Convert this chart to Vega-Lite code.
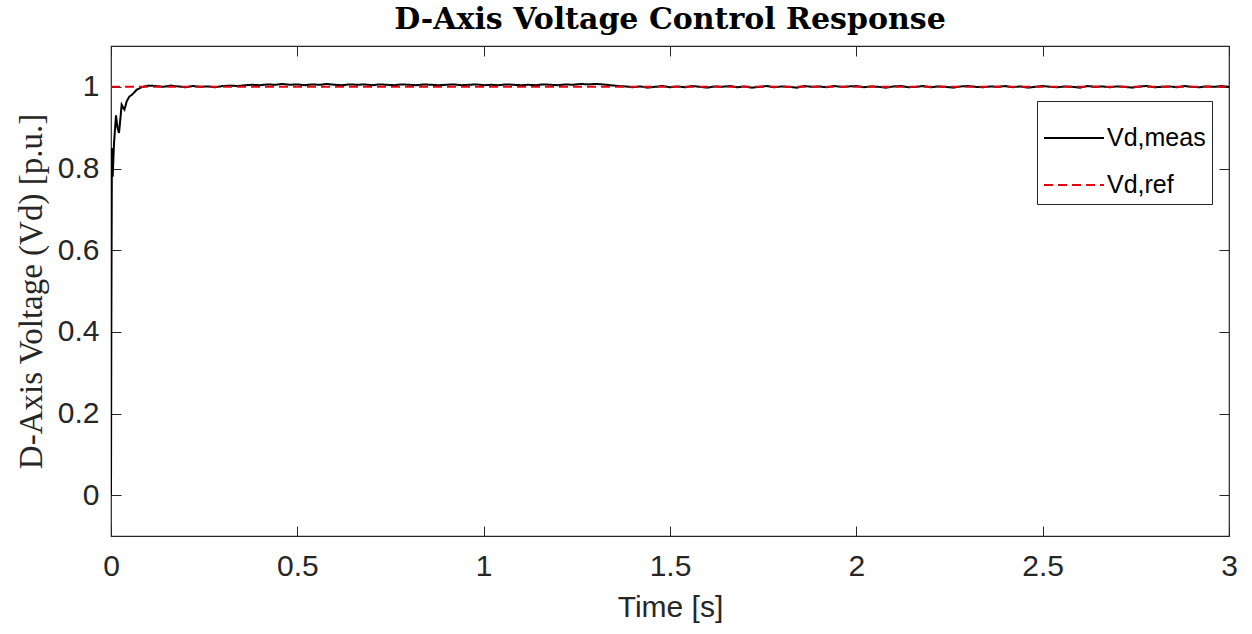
{
  "$schema": "https://vega.github.io/schema/vega-lite/v6.json",
  "width": 1118,
  "height": 490,
  "autosize": {"type": "none"},
  "padding": {"left": 111, "top": 46, "right": 23, "bottom": 98},
  "background": "white",
  "title": {
    "text": "D-Axis Voltage Control Response",
    "font": "DejaVu Serif",
    "fontSize": 30,
    "fontWeight": "bold",
    "color": "black",
    "anchor": "middle",
    "frame": "group",
    "baseline": "alphabetic",
    "offset": -13
  },
  "config": {
    "view": {"stroke": "#262626", "strokeWidth": 1.2},
    "axis": {
      "grid": false,
      "domain": false,
      "tickColor": "#262626",
      "tickWidth": 1,
      "tickSize": -10,
      "labelFont": "Liberation Sans",
      "labelFontSize": 30,
      "labelColor": "#262626",
      "titleColor": "#262626"
    }
  },
  "data": {
    "values": [
      {"t": 0, "v": 0, "s": "Vd,meas"},
      {"t": 0.001, "v": 0.45, "s": "Vd,meas"},
      {"t": 0.0025, "v": 0.85, "s": "Vd,meas"},
      {"t": 0.0045, "v": 0.78, "s": "Vd,meas"},
      {"t": 0.008, "v": 0.86, "s": "Vd,meas"},
      {"t": 0.0134, "v": 0.93, "s": "Vd,meas"},
      {"t": 0.0175, "v": 0.9, "s": "Vd,meas"},
      {"t": 0.0215, "v": 0.887, "s": "Vd,meas"},
      {"t": 0.026, "v": 0.93, "s": "Vd,meas"},
      {"t": 0.0286, "v": 0.956, "s": "Vd,meas"},
      {"t": 0.033, "v": 0.948, "s": "Vd,meas"},
      {"t": 0.036, "v": 0.944, "s": "Vd,meas"},
      {"t": 0.042, "v": 0.964, "s": "Vd,meas"},
      {"t": 0.049, "v": 0.976, "s": "Vd,meas"},
      {"t": 0.0555, "v": 0.98, "s": "Vd,meas"},
      {"t": 0.062, "v": 0.986, "s": "Vd,meas"},
      {"t": 0.069, "v": 0.993, "s": "Vd,meas"},
      {"t": 0.076, "v": 0.996, "s": "Vd,meas"},
      {"t": 0.082, "v": 0.999, "s": "Vd,meas"},
      {"t": 0.09, "v": 1.001, "s": "Vd,meas"},
      {"t": 0.1, "v": 1.003, "s": "Vd,meas"},
      {"t": 0.12, "v": 1.002, "s": "Vd,meas"},
      {"t": 0.14, "v": 1.0, "s": "Vd,meas"},
      {"t": 0.16, "v": 1.003, "s": "Vd,meas"},
      {"t": 0.18, "v": 1.001, "s": "Vd,meas"},
      {"t": 0.2, "v": 0.999, "s": "Vd,meas"},
      {"t": 0.22, "v": 1.002, "s": "Vd,meas"},
      {"t": 0.24, "v": 1.0, "s": "Vd,meas"},
      {"t": 0.26, "v": 1.001, "s": "Vd,meas"},
      {"t": 0.28, "v": 0.999, "s": "Vd,meas"},
      {"t": 0.3, "v": 1.002, "s": "Vd,meas"},
      {"t": 0.32, "v": 1.003, "s": "Vd,meas"},
      {"t": 0.34, "v": 1.002, "s": "Vd,meas"},
      {"t": 0.36, "v": 1.004, "s": "Vd,meas"},
      {"t": 0.38, "v": 1.005, "s": "Vd,meas"},
      {"t": 0.4, "v": 1.004, "s": "Vd,meas"},
      {"t": 0.42, "v": 1.006, "s": "Vd,meas"},
      {"t": 0.44, "v": 1.005, "s": "Vd,meas"},
      {"t": 0.46, "v": 1.007, "s": "Vd,meas"},
      {"t": 0.48, "v": 1.005, "s": "Vd,meas"},
      {"t": 0.5, "v": 1.006, "s": "Vd,meas"},
      {"t": 0.52, "v": 1.004, "s": "Vd,meas"},
      {"t": 0.54, "v": 1.006, "s": "Vd,meas"},
      {"t": 0.56, "v": 1.005, "s": "Vd,meas"},
      {"t": 0.58, "v": 1.007, "s": "Vd,meas"},
      {"t": 0.6, "v": 1.005, "s": "Vd,meas"},
      {"t": 0.62, "v": 1.004, "s": "Vd,meas"},
      {"t": 0.64, "v": 1.006, "s": "Vd,meas"},
      {"t": 0.66, "v": 1.005, "s": "Vd,meas"},
      {"t": 0.68, "v": 1.006, "s": "Vd,meas"},
      {"t": 0.7, "v": 1.004, "s": "Vd,meas"},
      {"t": 0.72, "v": 1.006, "s": "Vd,meas"},
      {"t": 0.74, "v": 1.005, "s": "Vd,meas"},
      {"t": 0.76, "v": 1.004, "s": "Vd,meas"},
      {"t": 0.78, "v": 1.006, "s": "Vd,meas"},
      {"t": 0.8, "v": 1.005, "s": "Vd,meas"},
      {"t": 0.82, "v": 1.004, "s": "Vd,meas"},
      {"t": 0.84, "v": 1.006, "s": "Vd,meas"},
      {"t": 0.86, "v": 1.005, "s": "Vd,meas"},
      {"t": 0.88, "v": 1.004, "s": "Vd,meas"},
      {"t": 0.9, "v": 1.005, "s": "Vd,meas"},
      {"t": 0.92, "v": 1.006, "s": "Vd,meas"},
      {"t": 0.94, "v": 1.004, "s": "Vd,meas"},
      {"t": 0.96, "v": 1.005, "s": "Vd,meas"},
      {"t": 0.98, "v": 1.006, "s": "Vd,meas"},
      {"t": 1.0, "v": 1.004, "s": "Vd,meas"},
      {"t": 1.02, "v": 1.005, "s": "Vd,meas"},
      {"t": 1.04, "v": 1.004, "s": "Vd,meas"},
      {"t": 1.06, "v": 1.006, "s": "Vd,meas"},
      {"t": 1.08, "v": 1.005, "s": "Vd,meas"},
      {"t": 1.1, "v": 1.004, "s": "Vd,meas"},
      {"t": 1.12, "v": 1.005, "s": "Vd,meas"},
      {"t": 1.14, "v": 1.004, "s": "Vd,meas"},
      {"t": 1.16, "v": 1.006, "s": "Vd,meas"},
      {"t": 1.18, "v": 1.005, "s": "Vd,meas"},
      {"t": 1.2, "v": 1.004, "s": "Vd,meas"},
      {"t": 1.22, "v": 1.006, "s": "Vd,meas"},
      {"t": 1.24, "v": 1.005, "s": "Vd,meas"},
      {"t": 1.26, "v": 1.007, "s": "Vd,meas"},
      {"t": 1.28, "v": 1.006, "s": "Vd,meas"},
      {"t": 1.3, "v": 1.007, "s": "Vd,meas"},
      {"t": 1.32, "v": 1.006, "s": "Vd,meas"},
      {"t": 1.34, "v": 1.004, "s": "Vd,meas"},
      {"t": 1.36, "v": 1.002, "s": "Vd,meas"},
      {"t": 1.38, "v": 1.001, "s": "Vd,meas"},
      {"t": 1.4, "v": 0.999, "s": "Vd,meas"},
      {"t": 1.42, "v": 1.001, "s": "Vd,meas"},
      {"t": 1.44, "v": 0.998, "s": "Vd,meas"},
      {"t": 1.46, "v": 1.0, "s": "Vd,meas"},
      {"t": 1.48, "v": 1.002, "s": "Vd,meas"},
      {"t": 1.5, "v": 0.999, "s": "Vd,meas"},
      {"t": 1.52, "v": 1.001, "s": "Vd,meas"},
      {"t": 1.54, "v": 0.999, "s": "Vd,meas"},
      {"t": 1.56, "v": 1.002, "s": "Vd,meas"},
      {"t": 1.58, "v": 1.0, "s": "Vd,meas"},
      {"t": 1.6, "v": 0.998, "s": "Vd,meas"},
      {"t": 1.62, "v": 1.001, "s": "Vd,meas"},
      {"t": 1.64, "v": 1.0, "s": "Vd,meas"},
      {"t": 1.66, "v": 1.002, "s": "Vd,meas"},
      {"t": 1.68, "v": 0.999, "s": "Vd,meas"},
      {"t": 1.7, "v": 1.001, "s": "Vd,meas"},
      {"t": 1.72, "v": 0.998, "s": "Vd,meas"},
      {"t": 1.74, "v": 1.0, "s": "Vd,meas"},
      {"t": 1.76, "v": 1.002, "s": "Vd,meas"},
      {"t": 1.78, "v": 0.999, "s": "Vd,meas"},
      {"t": 1.8, "v": 1.001, "s": "Vd,meas"},
      {"t": 1.82, "v": 1.0, "s": "Vd,meas"},
      {"t": 1.84, "v": 0.998, "s": "Vd,meas"},
      {"t": 1.86, "v": 1.002, "s": "Vd,meas"},
      {"t": 1.88, "v": 1.0, "s": "Vd,meas"},
      {"t": 1.9, "v": 1.001, "s": "Vd,meas"},
      {"t": 1.92, "v": 0.999, "s": "Vd,meas"},
      {"t": 1.94, "v": 1.002, "s": "Vd,meas"},
      {"t": 1.96, "v": 1.0, "s": "Vd,meas"},
      {"t": 1.98, "v": 1.001, "s": "Vd,meas"},
      {"t": 2.0, "v": 1.002, "s": "Vd,meas"},
      {"t": 2.02, "v": 0.999, "s": "Vd,meas"},
      {"t": 2.04, "v": 1.001, "s": "Vd,meas"},
      {"t": 2.06, "v": 1.0, "s": "Vd,meas"},
      {"t": 2.08, "v": 0.998, "s": "Vd,meas"},
      {"t": 2.1, "v": 1.001, "s": "Vd,meas"},
      {"t": 2.12, "v": 1.002, "s": "Vd,meas"},
      {"t": 2.14, "v": 0.999, "s": "Vd,meas"},
      {"t": 2.16, "v": 1.0, "s": "Vd,meas"},
      {"t": 2.18, "v": 1.002, "s": "Vd,meas"},
      {"t": 2.2, "v": 0.999, "s": "Vd,meas"},
      {"t": 2.22, "v": 1.001, "s": "Vd,meas"},
      {"t": 2.24, "v": 1.0, "s": "Vd,meas"},
      {"t": 2.26, "v": 0.998, "s": "Vd,meas"},
      {"t": 2.28, "v": 1.001, "s": "Vd,meas"},
      {"t": 2.3, "v": 1.002, "s": "Vd,meas"},
      {"t": 2.32, "v": 1.0, "s": "Vd,meas"},
      {"t": 2.34, "v": 0.999, "s": "Vd,meas"},
      {"t": 2.36, "v": 1.001, "s": "Vd,meas"},
      {"t": 2.38, "v": 1.0, "s": "Vd,meas"},
      {"t": 2.4, "v": 1.002, "s": "Vd,meas"},
      {"t": 2.42, "v": 0.999, "s": "Vd,meas"},
      {"t": 2.44, "v": 1.001, "s": "Vd,meas"},
      {"t": 2.46, "v": 0.998, "s": "Vd,meas"},
      {"t": 2.48, "v": 1.0, "s": "Vd,meas"},
      {"t": 2.5, "v": 1.002, "s": "Vd,meas"},
      {"t": 2.52, "v": 1.0, "s": "Vd,meas"},
      {"t": 2.54, "v": 0.999, "s": "Vd,meas"},
      {"t": 2.56, "v": 1.001, "s": "Vd,meas"},
      {"t": 2.58, "v": 1.0, "s": "Vd,meas"},
      {"t": 2.6, "v": 0.998, "s": "Vd,meas"},
      {"t": 2.62, "v": 1.002, "s": "Vd,meas"},
      {"t": 2.64, "v": 1.0, "s": "Vd,meas"},
      {"t": 2.66, "v": 1.001, "s": "Vd,meas"},
      {"t": 2.68, "v": 0.999, "s": "Vd,meas"},
      {"t": 2.7, "v": 1.001, "s": "Vd,meas"},
      {"t": 2.72, "v": 1.0, "s": "Vd,meas"},
      {"t": 2.74, "v": 0.998, "s": "Vd,meas"},
      {"t": 2.76, "v": 1.001, "s": "Vd,meas"},
      {"t": 2.78, "v": 1.002, "s": "Vd,meas"},
      {"t": 2.8, "v": 0.999, "s": "Vd,meas"},
      {"t": 2.82, "v": 1.0, "s": "Vd,meas"},
      {"t": 2.84, "v": 1.001, "s": "Vd,meas"},
      {"t": 2.86, "v": 0.999, "s": "Vd,meas"},
      {"t": 2.88, "v": 1.002, "s": "Vd,meas"},
      {"t": 2.9, "v": 1.0, "s": "Vd,meas"},
      {"t": 2.92, "v": 0.999, "s": "Vd,meas"},
      {"t": 2.94, "v": 1.001, "s": "Vd,meas"},
      {"t": 2.96, "v": 1.0, "s": "Vd,meas"},
      {"t": 2.98, "v": 1.002, "s": "Vd,meas"},
      {"t": 3.0, "v": 1.0, "s": "Vd,meas"},
      {"t": 0, "v": 1.0, "s": "Vd,ref"},
      {"t": 3.0, "v": 1.0, "s": "Vd,ref"}
    ]
  },
  "layer": [
    {
      "mark": {"type": "line", "strokeWidth": 2, "clip": true},
      "encoding": {
        "x": {
          "field": "t", "type": "quantitative",
          "scale": {"domain": [0, 3], "nice": false, "zero": false},
          "axis": {
            "orient": "bottom",
            "values": [0, 0.5, 1, 1.5, 2, 2.5, 3],
            "format": "~g",
            "labelPadding": 25,
            "labelFlush": false,
            "title": "Time [s]",
            "titleFont": "Liberation Sans",
            "titleFontSize": 30,
            "titleFontWeight": "normal",
            "titlePadding": 11
          }
        },
        "y": {
          "field": "v", "type": "quantitative",
          "scale": {"domain": [-0.1, 1.1], "nice": false, "zero": false},
          "axis": {
            "orient": "left",
            "values": [0, 0.2, 0.4, 0.6, 0.8, 1],
            "format": "~g",
            "labelPadding": 22,
            "labelFlush": false,
            "title": "D-Axis Voltage (Vd) [p.u.]",
            "titleFont": "Liberation Serif",
            "titleFontSize": 33,
            "titleFontWeight": "normal",
            "titlePadding": 9
          }
        },
        "color": {
          "field": "s", "type": "nominal",
          "scale": {"domain": ["Vd,meas", "Vd,ref"], "range": ["#000000", "#e8000b"]},
          "legend": {
            "title": null,
            "orient": "none",
            "legendX": 926,
            "legendY": 55,
            "strokeColor": "#262626",
            "fillColor": "white",
            "padding": 6,
            "symbolType": "stroke",
            "symbolSize": 3600,
            "symbolStrokeWidth": 2,
            "labelFont": "Liberation Sans",
            "labelFontSize": 25,
            "labelColor": "#000000",
            "labelOffset": 2,
            "rowPadding": 3
          }
        },
        "strokeDash": {
          "field": "s", "type": "nominal",
          "scale": {"domain": ["Vd,meas", "Vd,ref"], "range": [[1, 0], [9, 5]]},
          "legend": {
            "title": null,
            "orient": "none",
            "legendX": 926,
            "legendY": 55
          }
        }
      }
    },
    {
      "mark": {"type": "line", "opacity": 0},
      "encoding": {
        "x": {
          "field": "t", "type": "quantitative",
          "axis": {"orient": "top", "values": [0, 0.5, 1, 1.5, 2, 2.5, 3], "labels": false, "title": null}
        },
        "y": {
          "field": "v", "type": "quantitative",
          "axis": {"orient": "right", "values": [0, 0.2, 0.4, 0.6, 0.8, 1], "labels": false, "title": null}
        },
        "detail": {"field": "s", "type": "nominal"}
      }
    }
  ],
  "resolve": {"axis": {"x": "independent", "y": "independent"}}
}
